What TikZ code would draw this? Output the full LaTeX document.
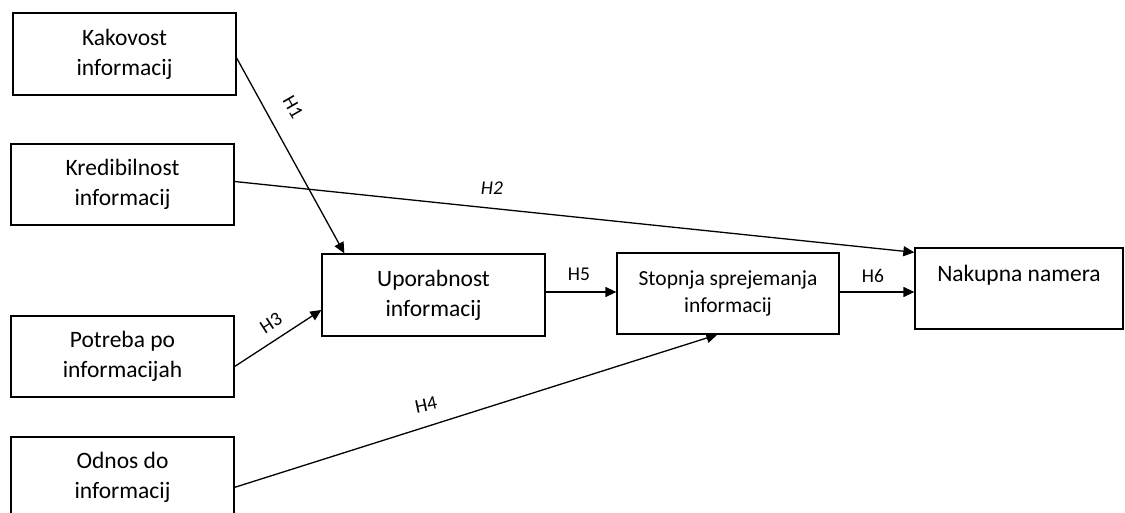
\documentclass[tikz,border=0pt]{standalone}
\usepackage{fontspec}
\setmainfont{Carlito}
\usetikzlibrary{arrows.meta,calc}
\begin{document}
\begin{tikzpicture}[x=1pt,y=-1pt,
  box/.style={draw, line width=1.3pt, inner sep=0pt, minimum width=223pt, minimum height=81pt, align=center, font=\fontsize{23.5}{30}\selectfont},
  conn/.style={line width=1.3pt, -{Triangle[length=11pt,width=10pt]}},
  hlab/.style={font=\fontsize{19.5}{20}\selectfont, inner sep=0pt}]
\useasboundingbox (0,0) rectangle (1125,512);
\clip (0,0) rectangle (1125,512);
\node[box, minimum height=82pt] (kak) at (124.5,54) {Kakovost\\informacij};
\node[box] (kre) at (122.5,184.5) {Kredibilnost\\informacij};
\node[box] (pot) at (122.5,356.5) {Potreba po\\informacijah};
\node[box, minimum height=80pt] (odn) at (122.5,477) {Odnos do\\informacij};
\node[box, minimum height=82pt] (upo) at (433.5,295) {Uporabnost\\informacij};
\node[box, minimum width=222pt, font=\fontsize{21.5}{27}\selectfont] (sto) at (728,293.5) {Stopnja sprejemanja\\informacij};
\node[box, minimum width=208pt] (nak) at (1019,288.5) {Nakupna namera\\\mbox{}};
\draw[conn] ([yshift=-4pt]kak.east) -- ([xshift=23pt]upo.north west);
\draw[conn] ([yshift=3pt]kre.east) -- ([yshift=-5pt]nak.north west);
\draw[conn] ([yshift=-10pt]pot.east) -- ([yshift=-15pt]upo.west);
\draw[conn] ([yshift=-51pt]odn.north east) -- ([xshift=101pt]sto.south west);
\draw[conn] ([yshift=3pt]upo.east) -- ([yshift=3pt]upo.east -| sto.west);
\draw[conn] ([yshift=1.5pt]sto.east) -- ([yshift=1.5pt]sto.east -| nak.west);
\node[hlab, rotate=-60] (h1) at (293,107) {H1};
\node[hlab, font=\fontsize{19.5}{20}\selectfont\itshape] (h2) at (492,188) {H2};
\node[hlab, rotate=33] (h3) at (271,323) {H3};
\node[hlab, rotate=12] (h4) at (426,405) {H4};
\node[hlab] (h5) at (579,274) {H5};
\node[hlab] (h6) at (873,276) {H6};
\end{tikzpicture}
\end{document}
